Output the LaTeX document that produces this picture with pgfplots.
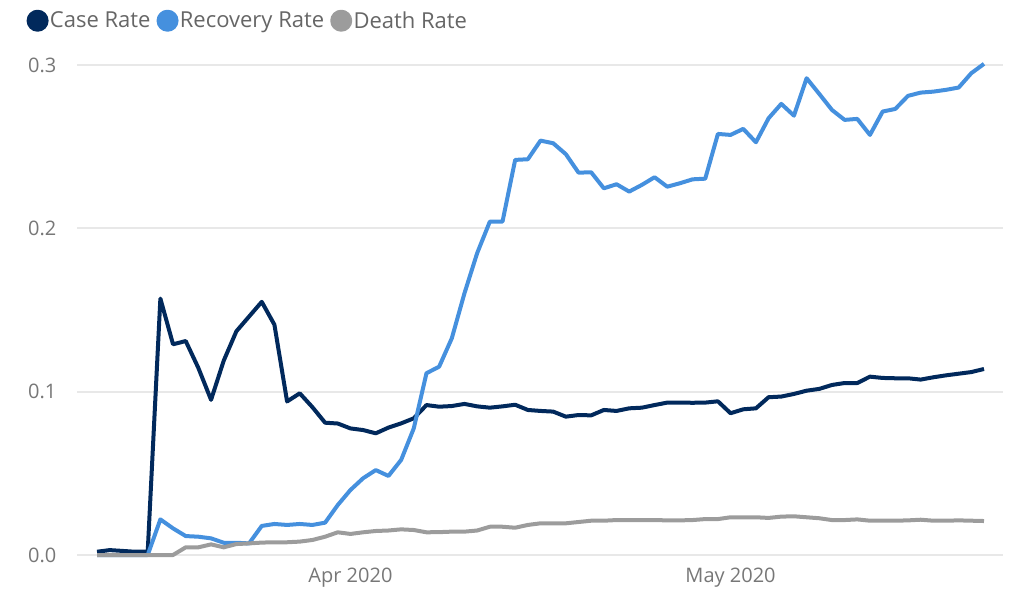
\documentclass[border=0pt]{standalone}
\usepackage{pgfplots}
\pgfplotsset{compat=1.18}
\usepackage{pgfplotstable}
\usepackage{fontspec}
\setmainfont{Open Sans}
\definecolor{caseC}{HTML}{01295C}
\definecolor{recC}{HTML}{4590DE}
\definecolor{deathC}{HTML}{9C9C9C}
\definecolor{gridC}{HTML}{E8E8E8}
\definecolor{tickC}{HTML}{777777}
\definecolor{legC}{HTML}{666666}

\pgfplotstableread{
k case rec death
0 0.002 0 0
1 0.003 0 0
2 0.0025 0 0
3 0.002 0 0
4 0.002 0 0
5 0.157 0.0218 0
6 0.129 0.0163 0
7 0.131 0.0116 0.0047
8 0.1145 0.0112 0.0047
9 0.095 0.0102 0.0065
10 0.119 0.0075 0.0047
11 0.137 0.0075 0.0067
12 0.146 0.0071 0.0071
13 0.155 0.0178 0.0076
14 0.141 0.019 0.0078
15 0.094 0.0184 0.0078
16 0.099 0.019 0.0082
17 0.0905 0.0184 0.0092
18 0.081 0.0198 0.0112
19 0.0805 0.0306 0.0139
20 0.0775 0.0398 0.0129
21 0.0765 0.047 0.0139
22 0.0745 0.052 0.0147
23 0.078 0.0484 0.015
24 0.0806 0.0582 0.0157
25 0.0837 0.0776 0.0153
26 0.0918 0.1113 0.0139
27 0.0908 0.1153 0.014
28 0.0912 0.1327 0.0143
29 0.0925 0.1603 0.0143
30 0.091 0.1848 0.015
31 0.0902 0.2041 0.0173
32 0.091 0.2041 0.0173
33 0.092 0.2419 0.0167
34 0.0888 0.2423 0.0184
35 0.0882 0.2537 0.0194
36 0.0878 0.2521 0.0194
37 0.0847 0.2454 0.0194
38 0.0857 0.2341 0.0202
39 0.0855 0.2343 0.021
40 0.0888 0.2245 0.021
41 0.0882 0.227 0.0214
42 0.0898 0.2225 0.0214
43 0.0902 0.2266 0.0214
44 0.0918 0.2313 0.0214
45 0.0933 0.2255 0.0212
46 0.0933 0.2276 0.0212
47 0.0932 0.2300 0.0214
48 0.0933 0.2304 0.022
49 0.0941 0.2578 0.022
50 0.0868 0.2572 0.0231
51 0.0892 0.2609 0.0231
52 0.0898 0.2527 0.0231
53 0.0966 0.2674 0.0227
54 0.097 0.2762 0.0235
55 0.0986 0.269 0.0237
56 0.1006 0.2919 0.0231
57 0.1017 0.2823 0.0225
58 0.1041 0.2725 0.0214
59 0.1053 0.2664 0.0214
60 0.1053 0.267 0.0218
61 0.1092 0.2572 0.021
62 0.1084 0.2715 0.021
63 0.1082 0.2731 0.021
64 0.1082 0.2811 0.0212
65 0.1074 0.2831 0.0216
66 0.1088 0.2837 0.021
67 0.11 0.2848 0.021
68 0.111 0.2862 0.0212
69 0.112 0.295 0.021
70 0.1139 0.3007 0.0208
}\datatable

\begin{document}
\begin{tikzpicture}
\begin{axis}[
  at={(57.75pt,34.5pt)}, anchor=south west,
  scale only axis,
  width=694.5pt, height=367.5pt,
  xmin=-1.58, xmax=71.5,
  ymin=0, ymax=0.3,
  clip=false,
  axis line style={draw=none},
  tick style={draw=none},
  ymajorgrids, grid style={gridC, line width=1.3pt},
  ytick={0,0.1,0.2,0.3},
  yticklabels={0.0,0.1,0.2,0.3},
  xtick={20,50},
  xticklabels={Apr 2020,May 2020},
  tick label style={font=\fontsize{15}{17}\selectfont, text=tickC},
  yticklabel style={xshift=-12pt},
  xticklabel style={yshift=-6pt},
  /pgf/number format/assume math mode=true,
  legend columns=-1,
  legend style={draw=none, fill=none, at={(axis description cs:0,1)}, anchor=south west,
    xshift=-38pt, yshift=24pt, font=\fontsize{16.5}{18}\selectfont, text=legC,
    /tikz/every even column/.append style={column sep=3.5pt},
    /tikz/every odd column/.append style={column sep=0pt},
    nodes={inner xsep=1pt}, inner sep=0pt},
  legend image code/.code={\fill[#1] (3pt,0pt) circle (6.75pt);},
]
\addplot[caseC, line width=3pt, line join=round] table[x=k,y=case]{\datatable};
\addlegendentry{Case Rate}
\addplot[recC, line width=3pt, line join=round] table[x=k,y=rec]{\datatable};
\addlegendentry{Recovery Rate}
\addplot[deathC, line width=3pt, line join=round] table[x=k,y=death]{\datatable};
\addlegendentry{Death Rate}
\end{axis}
\pgfresetboundingbox
\useasboundingbox (0,0) rectangle (771pt,450.75pt);
\end{tikzpicture}
\end{document}
